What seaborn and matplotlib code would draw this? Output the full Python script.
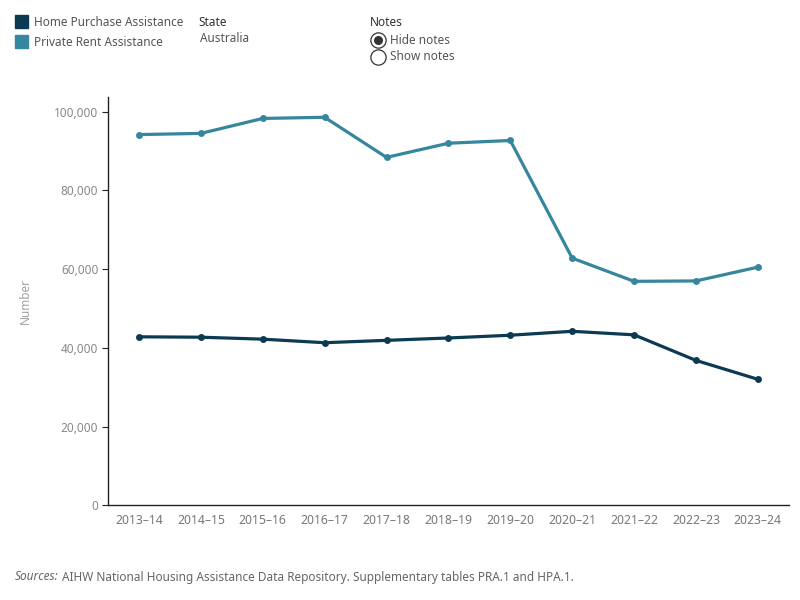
import numpy as np
import pandas as pd
import seaborn as sns
import matplotlib.pyplot as plt
from matplotlib.patches import Rectangle
from matplotlib.lines import Line2D
from matplotlib.ticker import FuncFormatter

years = ["2013–14", "2014–15", "2015–16", "2016–17", "2017–18", "2018–19",
         "2019–20", "2020–21", "2021–22", "2022–23", "2023–24"]
home_purchase = [42800, 42700, 42200, 41300, 41900, 42500, 43200, 44200, 43300, 36800, 32000]
private_rent = [94200, 94500, 98300, 98600, 88400, 92000, 92700, 62800, 56900, 57000, 60500]

series_names = ["Home Purchase Assistance", "Private Rent Assistance"]
colours = ["#0b3a52", "#36869e"]

df = pd.DataFrame({
    "Year": years * 2,
    "Number": home_purchase + private_rent,
    "Series": [series_names[0]] * len(years) + [series_names[1]] * len(years),
})

sns.set_style("white")
plt.rcParams['font.family'] = ['Noto Sans', 'DejaVu Sans']

fig = plt.figure(figsize=(8, 6), dpi=100)
ax = fig.add_axes([0.135, 0.158, 0.851, 0.68])

sns.lineplot(data=df, x="Year", y="Number", hue="Series", palette=colours,
             marker="o", markersize=5, markeredgewidth=0, linewidth=2.3,
             sort=False, legend=False, ax=ax)

ax.set_xlim(-0.5, len(years) - 0.5)
ax.set_ylim(0, 103700)
ax.set_yticks(np.arange(0, 100001, 20000))
ax.yaxis.set_major_formatter(FuncFormatter(lambda v, p: f"{int(v):,}"))
ax.set_xlabel("")
ax.set_ylabel("Number", color="#a0a0a0", fontsize=8.5, labelpad=16)

ax.set_xticks(range(len(years)))
ax.set_xticks(np.arange(-0.5, len(years), 1), minor=True)
ax.tick_params(axis="x", which="major", length=0, pad=6, labelsize=8.8, labelcolor="#777777")
ax.tick_params(axis="x", which="minor", length=4, width=0.8, color="#222222", direction="out")
ax.tick_params(axis="y", which="major", length=4, width=0.8, color="#222222",
               direction="out", labelsize=8.5, labelcolor="#888888", pad=3, left=True)

for s in ["top", "right"]:
    ax.spines[s].set_visible(False)
for s in ["left", "bottom"]:
    ax.spines[s].set_color("#222222")
    ax.spines[s].set_linewidth(1)

# legend squares and labels
for i, (name, c) in enumerate(zip(series_names, colours)):
    y0 = 1 - (15 + 20 * i + 13) / 600
    fig.add_artist(Rectangle((15 / 800, y0), 13 / 800, 13 / 600,
                             transform=fig.transFigure, color=c))
    fig.text(34 / 800, 1 - (22 + 20 * i) / 600, name, fontsize=8.5,
             color="#555555", va="center")

fig.text(198 / 800, 1 - 22 / 600, "State", fontsize=8.5, fontweight="bold",
         color="#333333", va="center")
fig.text(200 / 800, 1 - 39 / 600, "Australia", fontsize=8.5, color="#555555", va="center")

fig.text(370 / 800, 1 - 22 / 600, "Notes", fontsize=8.5, fontweight="bold",
         color="#333333", va="center")
for j, lab in enumerate(["Hide notes", "Show notes"]):
    yy = 1 - (40 + 17 * j) / 600
    fig.add_artist(Line2D([378 / 800], [yy], marker="o", markersize=11,
                          markerfacecolor="white", markeredgecolor="#333333",
                          markeredgewidth=0.9, transform=fig.transFigure))
    if j == 0:
        fig.add_artist(Line2D([378 / 800], [yy], marker="o", markersize=6.5,
                              markerfacecolor="#333333", markeredgewidth=0,
                              transform=fig.transFigure))
    fig.text(390 / 800, yy, lab, fontsize=8.5, color="#555555", va="center")

src_label = fig.text(15 / 800, 1 - 577 / 600, "Sources:", fontsize=8.5, style="italic",
                     color="#666666", va="center")
fig.canvas.draw()
bb = src_label.get_window_extent()
fig.text((bb.x1 + 3) / 800, 1 - 577 / 600,
         "AIHW National Housing Assistance Data Repository. Supplementary tables PRA.1 and HPA.1.",
         fontsize=8.5, color="#666666", va="center")

fig.savefig("out.png", dpi=100)
